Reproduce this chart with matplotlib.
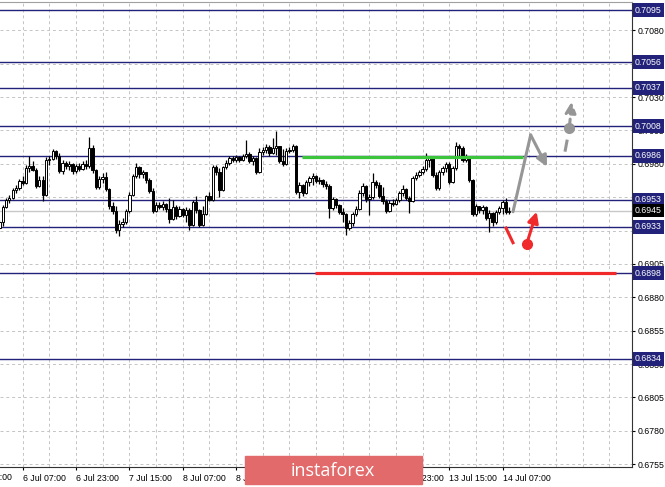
import matplotlib
matplotlib.use("Agg")
import matplotlib.pyplot as plt
import matplotlib.transforms as mtransforms
from matplotlib.patches import Rectangle
import numpy as np

plt.rcParams['font.family'] = ['Liberation Sans', 'DejaVu Sans']

# H1 candles, 6 Jul 00:00 .. 14 Jul 09:00 (weekend skipped), bar index on x
first_open = 0.69320
closes = [
    0.69364, 0.69477, 0.69529, 0.69544, 0.69604, 0.69619, 0.69671, 0.69656, 0.69769, 0.69784,
    0.69754, 0.69634, 0.69679, 0.69567, 0.69829, 0.69836, 0.69896, 0.69858, 0.69746, 0.69806,
    0.69784, 0.69799, 0.69746, 0.69784, 0.69761, 0.69799, 0.69784, 0.69918, 0.69754, 0.69626,
    0.69686, 0.69701, 0.69611, 0.69484, 0.69447, 0.69305, 0.69350, 0.69364, 0.69447, 0.69567,
    0.69709, 0.69776, 0.69724, 0.69739, 0.69679, 0.69597, 0.69447, 0.69492, 0.69477, 0.69499,
    0.69462, 0.69387, 0.69477, 0.69409, 0.69462, 0.69417, 0.69454, 0.69342, 0.69514, 0.69454,
    0.69342, 0.69424, 0.69559, 0.69529, 0.69776, 0.69739, 0.69604, 0.69776, 0.69806, 0.69844,
    0.69829, 0.69851, 0.69829, 0.69858, 0.69873, 0.69821, 0.69844, 0.69739, 0.69888, 0.69903,
    0.69926, 0.69881, 0.69918, 0.69933, 0.69821, 0.69799, 0.69896, 0.69903, 0.69933, 0.69589,
    0.69641, 0.69582, 0.69664, 0.69694, 0.69709, 0.69671, 0.69679, 0.69649, 0.69634, 0.69469,
    0.69537, 0.69492, 0.69439, 0.69424, 0.69320, 0.69357, 0.69424, 0.69462, 0.69582, 0.69634,
    0.69537, 0.69552, 0.69664, 0.69641, 0.69559, 0.69522, 0.69447, 0.69507, 0.69499, 0.69529,
    0.69582, 0.69611, 0.69544, 0.69522, 0.69694, 0.69716, 0.69739, 0.69761, 0.69829, 0.69844,
    0.69716, 0.69619, 0.69739, 0.69769, 0.69799, 0.69664, 0.69769, 0.69933, 0.69918, 0.69829,
    0.69858, 0.69679, 0.69424, 0.69484, 0.69454, 0.69477, 0.69394, 0.69432, 0.69364, 0.69439,
    0.69469, 0.69514, 0.69439, 0.69450,
]
highs = [
    0.69379, 0.69492, 0.69544, 0.69567, 0.69619, 0.69641, 0.69686, 0.69709, 0.69791, 0.69858,
    0.69821, 0.69769, 0.69709, 0.69709, 0.69851, 0.69858, 0.69911, 0.69903, 0.69881, 0.69829,
    0.69821, 0.69821, 0.69806, 0.69799, 0.69806, 0.69821, 0.69829, 0.70001, 0.69941, 0.69761,
    0.69709, 0.69731, 0.69739, 0.69619, 0.69514, 0.69484, 0.69379, 0.69394, 0.69462, 0.69589,
    0.69724, 0.69806, 0.69784, 0.69754, 0.69731, 0.69694, 0.69619, 0.69514, 0.69514, 0.69522,
    0.69507, 0.69544, 0.69529, 0.69492, 0.69484, 0.69469, 0.69477, 0.69469, 0.69529, 0.69559,
    0.69462, 0.69484, 0.69567, 0.69589, 0.69791, 0.69791, 0.69769, 0.69784, 0.69829, 0.69858,
    0.69858, 0.69866, 0.69858, 0.69873, 0.69978, 0.69888, 0.69858, 0.69851, 0.69918, 0.69926,
    0.69948, 0.69941, 0.69993, 0.70046, 0.69933, 0.69911, 0.69918, 0.69926, 0.69948, 0.69941,
    0.69664, 0.69649, 0.69679, 0.69709, 0.69731, 0.69716, 0.69701, 0.69686, 0.69671, 0.69649,
    0.69552, 0.69544, 0.69499, 0.69469, 0.69432, 0.69379, 0.69439, 0.69484, 0.69604, 0.69656,
    0.69641, 0.69574, 0.69731, 0.69679, 0.69664, 0.69626, 0.69537, 0.69529, 0.69537, 0.69544,
    0.69597, 0.69641, 0.69619, 0.69559, 0.69709, 0.69739, 0.69754, 0.69784, 0.69881, 0.69858,
    0.69851, 0.69739, 0.69754, 0.69784, 0.69814, 0.69814, 0.69784, 0.69963, 0.69948, 0.69933,
    0.69873, 0.69851, 0.69686, 0.69499, 0.69477, 0.69492, 0.69484, 0.69454, 0.69439, 0.69454,
    0.69484, 0.69529, 0.69544, 0.69477,
]
lows = [
    0.69312, 0.69335, 0.69469, 0.69507, 0.69537, 0.69582, 0.69604, 0.69641, 0.69649, 0.69739,
    0.69746, 0.69619, 0.69626, 0.69522, 0.69559, 0.69791, 0.69829, 0.69836, 0.69731, 0.69724,
    0.69761, 0.69754, 0.69724, 0.69731, 0.69746, 0.69754, 0.69761, 0.69769, 0.69731, 0.69611,
    0.69611, 0.69656, 0.69597, 0.69462, 0.69424, 0.69282, 0.69260, 0.69327, 0.69350, 0.69432,
    0.69559, 0.69694, 0.69694, 0.69694, 0.69656, 0.69582, 0.69432, 0.69439, 0.69462, 0.69454,
    0.69439, 0.69357, 0.69379, 0.69387, 0.69402, 0.69402, 0.69364, 0.69305, 0.69335, 0.69432,
    0.69327, 0.69335, 0.69417, 0.69522, 0.69522, 0.69716, 0.69552, 0.69597, 0.69761, 0.69791,
    0.69814, 0.69814, 0.69814, 0.69821, 0.69844, 0.69806, 0.69791, 0.69724, 0.69731, 0.69866,
    0.69881, 0.69858, 0.69873, 0.69866, 0.69806, 0.69784, 0.69791, 0.69881, 0.69888, 0.69574,
    0.69544, 0.69559, 0.69574, 0.69634, 0.69641, 0.69656, 0.69649, 0.69626, 0.69611, 0.69394,
    0.69454, 0.69469, 0.69424, 0.69364, 0.69267, 0.69305, 0.69335, 0.69409, 0.69454, 0.69559,
    0.69514, 0.69417, 0.69537, 0.69619, 0.69544, 0.69499, 0.69432, 0.69439, 0.69484, 0.69492,
    0.69514, 0.69559, 0.69529, 0.69432, 0.69514, 0.69679, 0.69701, 0.69724, 0.69746, 0.69776,
    0.69701, 0.69604, 0.69604, 0.69716, 0.69739, 0.69649, 0.69656, 0.69754, 0.69851, 0.69814,
    0.69814, 0.69664, 0.69409, 0.69409, 0.69432, 0.69424, 0.69379, 0.69290, 0.69335, 0.69350,
    0.69424, 0.69424, 0.69424, 0.69424,
]

# support / resistance levels drawn on the chart
levels = [0.7095, 0.7056, 0.7037, 0.7008, 0.6986, 0.6953, 0.6933, 0.6898, 0.6834]
current_price = 0.6945
yticks = [0.6755, 0.6780, 0.6805, 0.6830, 0.6855, 0.6880, 0.6905, 0.6930,
          0.6955, 0.6980, 0.7005, 0.7030, 0.7055, 0.7080]
xtick_bars = [7, 23, 39, 55, 71, 87, 103, 119, 135, 151]
xtick_labels = ['6 Jul 07:00', '6 Jul 23:00', '7 Jul 15:00', '8 Jul 07:00', '8 Jul 23:00',
                '9 Jul 15:00', '10 Jul 07:00', '10 Jul 23:00', '13 Jul 15:00', '14 Jul 07:00']
green_line = ([90.7, 157.0], 0.6985)
red_line = ([94.7, 185.0], 0.6898)
# forecast arrows (bar, price)
gray_path = [(154.1, 0.69441), (159.4, 0.70016), (164.3, 0.69778)]
gray_dash = [(169.7, 0.69891), (171.0, 0.70066), (171.7, 0.70265)]
red_dash = [(152.0, 0.69319), (154.1, 0.69209)]
red_arrow = [(158.2, 0.69199), (161.2, 0.69441)]

navy = '#22227a'
fs = 6.3

fig = plt.figure(figsize=(6.65, 4.87), dpi=100)
ax = fig.add_axes([0, 20 / 487, 632 / 665, 465 / 487])
ax.set_xlim(0.2, 189.8)
ax.set_ylim(0.67529, 0.71012)

# grid
for b in range(7, 190, 8):
    ax.axvline(b, color='#c4c4c4', lw=0.7, ls=(0, (3, 3)), zorder=0)
for t in yticks:
    ax.axhline(t, color='#c4c4c4', lw=0.7, ls=(0, (3, 3)), zorder=0)

ax.axhline(current_price, color='#c8c8c8', lw=1.0, zorder=1)
for lv in levels:
    ax.axhline(lv, color=navy, lw=1.0, zorder=1)

# candles
c = np.array(closes)
o = np.array([first_open] + closes[:-1])  # H1 bars open at previous close
h = np.array(highs)
l = np.array(lows)
x = np.arange(len(c))
up = c >= o
ax.vlines(x, l, h, color='black', lw=0.9, zorder=3)
ax.bar(x[up], c[up] - o[up], bottom=o[up], width=0.7, color='white',
       edgecolor='black', linewidth=0.7, zorder=4)
ax.bar(x[~up], o[~up] - c[~up], bottom=c[~up], width=0.7, color='black',
       edgecolor='black', linewidth=0.7, zorder=4)

ax.hlines(green_line[1], *green_line[0], color='#3cc43c', lw=2.3, zorder=5)
ax.hlines(red_line[1], *red_line[0], color='#f02a2a', lw=2.3, zorder=5)

# gray forecast
gcol = '#969696'
gx, gy = zip(*gray_path)
ax.plot(gx[:2], gy[:2], color=gcol, lw=2.2, solid_capstyle='round', zorder=6)
ax.annotate('', xy=gray_path[2], xytext=gray_path[1],
            arrowprops=dict(arrowstyle='-|>', color=gcol, lw=2.2,
                            mutation_scale=16, shrinkA=0, shrinkB=0), zorder=6)
ax.plot([gray_dash[0][0], gray_dash[1][0]], [gray_dash[0][1], gray_dash[1][1]],
        color=gcol, lw=2.2, ls=(0, (4, 3)), zorder=6)
ax.annotate('', xy=gray_dash[2], xytext=gray_dash[1],
            arrowprops=dict(arrowstyle='-|>', color=gcol, lw=2.2, ls=(0, (3, 2)),
                            mutation_scale=16, shrinkA=0, shrinkB=0), zorder=6)
ax.plot(*gray_dash[1], 'o', color=gcol, ms=7, zorder=7)

# red forecast
rx, ry = zip(*red_dash)
ax.plot(rx, ry, color='#f02a2a', lw=2.2, zorder=6)
ax.annotate('', xy=red_arrow[1], xytext=red_arrow[0],
            arrowprops=dict(arrowstyle='-|>', color='#f02a2a', lw=2.2,
                            mutation_scale=16, shrinkA=0, shrinkB=0), zorder=6)
ax.plot(*red_arrow[0], 'o', color='#f02a2a', ms=7, zorder=7)

# axes look
ax.spines['left'].set_visible(False)
ax.spines['top'].set_color('#a0a0a0')
ax.spines['right'].set_color('#333333')
ax.spines['bottom'].set_color('#333333')
ax.yaxis.tick_right()
ax.set_yticks(yticks)
ax.set_yticklabels([f'{t:.4f}' for t in yticks])
ax.tick_params(axis='y', length=2.5, width=0.8, labelsize=fs, pad=1.5)
ax.set_xticks(xtick_bars)
ax.set_xticklabels(xtick_labels)
ax.tick_params(axis='x', length=2.5, width=0.8, labelsize=fs, pad=2.5)
for lab in ax.get_xticklabels():
    lab.set_ha('left')
# label of the previous friday, mostly cut off at the left edge
ax.text(-9, -0.0125, '3 Jul 15:00', transform=ax.get_xaxis_transform(),
        ha='left', va='top', fontsize=fs, clip_on=False)

trans = mtransforms.blended_transform_factory(ax.transAxes, ax.transData)
for lv in levels:
    ax.text(1.0 + 3 / 632, lv, f'{lv:.4f}', transform=trans, ha='left', va='center',
            color='white', fontsize=fs, clip_on=False, zorder=10,
            bbox=dict(boxstyle='square,pad=0.28', fc=navy, ec='none'))
ax.text(1.0 + 3 / 632, current_price, f'{current_price:.4f}', transform=trans,
        ha='left', va='center', color='white', fontsize=fs, clip_on=False, zorder=10,
        bbox=dict(boxstyle='square,pad=0.28', fc='black', ec='none'))

# watermark
fig.patches.append(Rectangle((245 / 665, 3 / 487), 177 / 665, 28 / 487,
                             transform=fig.transFigure, color='#e26a6a', zorder=20))
fig.text(333 / 665, 16 / 487, 'instaforex', color='white', fontsize=13,
         family='Open Sans', ha='center', va='center', zorder=21)

fig.savefig('out.png', dpi=100)
